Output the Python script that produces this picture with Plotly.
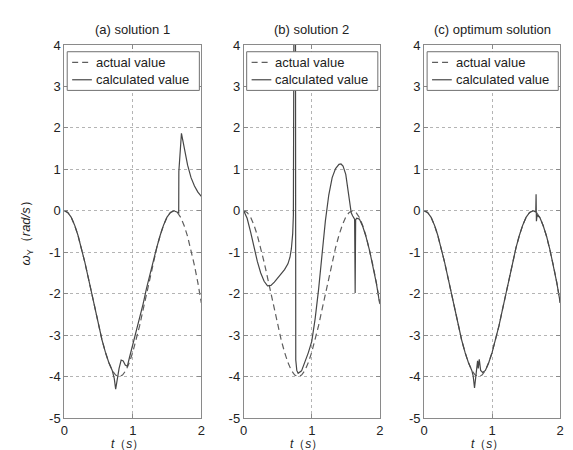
import plotly.graph_objects as go

# ---------------- data ----------------
t_actual = [0.00, 0.05, 0.10, 0.15, 0.20, 0.25, 0.30, 0.35, 0.40, 0.45,
            0.50, 0.55, 0.60, 0.65, 0.70, 0.75, 0.80, 0.85, 0.90, 0.95,
            1.00, 1.05, 1.10, 1.15, 1.20, 1.25, 1.30, 1.35, 1.40, 1.45,
            1.50, 1.55, 1.60, 1.65, 1.70, 1.75, 1.80, 1.85, 1.90, 1.95, 2.00]
actual = [0.00, -0.04, -0.15, -0.34, -0.59, -0.89, -1.24, -1.61, -2.00, -2.39,
          -2.77, -3.11, -3.41, -3.66, -3.85, -3.96, -4.00, -3.96, -3.85, -3.66,
          -3.41, -3.11, -2.77, -2.39, -2.00, -1.61, -1.24, -0.89, -0.59, -0.34,
          -0.15, -0.04, 0.00, -0.04, -0.16, -0.36, -0.62, -0.95, -1.32, -1.74, -2.22]

t_calc_a = [0.00, 0.05, 0.10, 0.15, 0.20, 0.25, 0.30, 0.35, 0.40, 0.45,
            0.50, 0.55, 0.60, 0.65, 0.70, 0.73, 0.75, 0.77, 0.80, 0.83,
            0.86, 0.89, 0.92, 0.95, 1.00, 1.05, 1.10, 1.15, 1.20, 1.25,
            1.30, 1.35, 1.40, 1.45, 1.50, 1.55, 1.60, 1.65, 1.670, 1.672,
            1.69, 1.71, 1.73, 1.76, 1.80, 1.85, 1.90, 1.95, 2.00]
calc_a = [0.00, -0.04, -0.15, -0.34, -0.59, -0.89, -1.24, -1.61, -2.00, -2.39,
          -2.77, -3.11, -3.41, -3.66, -3.85, -4.05, -4.30, -4.05, -3.80, -3.60,
          -3.62, -3.72, -3.75, -3.55, -3.22, -2.95, -2.62, -2.25, -1.87, -1.53,
          -1.20, -0.88, -0.59, -0.34, -0.15, -0.04, 0.00, -0.03, -0.05, 0.95,
          1.45, 1.87, 1.70, 1.42, 1.10, 0.80, 0.60, 0.45, 0.35]

t_calc_b = [0.00, 0.05, 0.10, 0.15, 0.20, 0.25, 0.30, 0.35, 0.40, 0.45,
            0.50, 0.55, 0.60, 0.65, 0.68, 0.70, 0.72, 0.73, 0.735, 0.740,
            0.760, 0.765, 0.78, 0.80, 0.85, 0.90, 0.95, 1.00, 1.05, 1.10,
            1.15, 1.20, 1.25, 1.30, 1.35, 1.40, 1.43, 1.46, 1.50, 1.53,
            1.56, 1.58, 1.60, 1.63, 1.638, 1.645, 1.66, 1.70, 1.75, 1.80,
            1.85, 1.90, 1.95, 2.00]
calc_b = [0.00, -0.18, -0.50, -0.88, -1.22, -1.50, -1.70, -1.81, -1.80, -1.72,
          -1.62, -1.52, -1.42, -1.28, -1.12, -0.92, -0.55, -0.10, 1.50, 6.00,
          6.00, -3.60, -3.85, -3.92, -3.86, -3.66, -3.42, -3.15, -2.60, -1.90,
          -1.08, -0.25, 0.38, 0.80, 1.02, 1.12, 1.13, 1.08, 0.88, 0.55,
          0.15, -0.05, -0.12, -0.20, -1.98, -0.22, -0.18, -0.20, -0.38, -0.64,
          -0.96, -1.33, -1.75, -2.25]

t_calc_c = [0.00, 0.05, 0.10, 0.15, 0.20, 0.25, 0.30, 0.35, 0.40, 0.45,
            0.50, 0.55, 0.60, 0.65, 0.70, 0.72, 0.74, 0.77, 0.785, 0.795,
            0.81, 0.83, 0.86, 0.90, 0.95, 1.00, 1.05, 1.10, 1.15, 1.20,
            1.25, 1.30, 1.35, 1.40, 1.45, 1.50, 1.55, 1.60, 1.64, 1.645,
            1.65, 1.66, 1.70, 1.75, 1.80, 1.85, 1.90, 1.95, 2.00]
calc_c = [0.00, -0.04, -0.15, -0.34, -0.59, -0.89, -1.24, -1.61, -2.00, -2.39,
          -2.77, -3.11, -3.41, -3.66, -3.85, -3.98, -4.27, -3.85, -3.62, -3.80,
          -3.58, -3.85, -3.90, -3.85, -3.66, -3.41, -3.11, -2.77, -2.39, -2.00,
          -1.61, -1.24, -0.89, -0.59, -0.34, -0.15, -0.04, 0.00, -0.03, 0.40,
          -0.25, -0.10, -0.16, -0.36, -0.62, -0.95, -1.32, -1.74, -2.22]

titles = ["(a) solution 1", "(b) solution 2", "(c) optimum solution"]
legend_labels = ["actual value", "calculated value"]
y_tickvals = [-5, -4, -3, -2, -1, 0, 1, 2, 3, 4]
y_ticktext = ["-5", "-4", "-3", "-2", "-1", "0", "1", "2", "3", "4"]
x_tickvals = [0, 1, 2]
x_ticktext = ["0", "1", "2"]
y_label = "<i>ω</i><sub>Y</sub>（<i>rad/s</i>）"
x_label = "<i>t</i>（<i>s</i>）"

# ---------------- layout geometry ----------------
W, H = 573, 450
panels_px = [(53, 192), (235, 373), (418, 556)]
top_px, bot_px = 31, 417
FONT = "Liberation Sans, Arial, sans-serif"
TXT = "#222222"
FRAME = "#8a8a8a"
DASH_COL = "#5e5e5e"
SOLID_COL = "#474747"


def px_x(p):
    return p / W


def px_y(p):
    return 1 - p / H


fig = go.Figure()
calc_sets = [(t_calc_a, calc_a), (t_calc_b, calc_b), (t_calc_c, calc_c)]
shapes = []
annotations = []
layout_axes = {}

for i, ((pl, pr), (tc, vc)) in enumerate(zip(panels_px, calc_sets)):
    suffix = "" if i == 0 else str(i + 1)
    xa, ya = "x" + suffix, "y" + suffix
    fig.add_trace(go.Scatter(x=t_actual, y=actual, mode="lines",
                             line=dict(color=DASH_COL, width=1.2, dash="6px,4px"),
                             xaxis=xa, yaxis=ya, showlegend=False,
                             name=legend_labels[0]))
    fig.add_trace(go.Scatter(x=tc, y=vc, mode="lines",
                             line=dict(color=SOLID_COL, width=1.2),
                             xaxis=xa, yaxis=ya, showlegend=False,
                             name=legend_labels[1]))
    common = dict(showline=True, linecolor=FRAME, linewidth=1, mirror="ticks",
                  ticks="inside", ticklen=4, tickcolor=FRAME,
                  showgrid=True, gridcolor="#b4b4b4", griddash="dot", gridwidth=1,
                  zeroline=False, tickfont=dict(family=FONT, size=13, color=TXT))
    layout_axes["xaxis" + suffix] = dict(common, domain=[px_x(pl), px_x(pr)],
                                         range=[0, 2], tickvals=x_tickvals,
                                         ticktext=x_ticktext, anchor=ya)
    layout_axes["yaxis" + suffix] = dict(common, domain=[px_y(bot_px), px_y(top_px)],
                                         range=[-5, 4], tickvals=y_tickvals,
                                         ticktext=y_ticktext, anchor=xa)

    cx = (pl + pr) / 2
    # panel title
    annotations.append(dict(text=titles[i], x=px_x(cx), y=px_y(15), xref="paper",
                            yref="paper", showarrow=False, xanchor="center",
                            yanchor="middle", font=dict(family=FONT, size=13, color=TXT)))
    # x-axis label
    annotations.append(dict(text=x_label, x=px_x(cx - 5), y=px_y(444), xref="paper",
                            yref="paper", showarrow=False, xanchor="center",
                            yanchor="middle", font=dict(family=FONT, size=12, color=TXT)))

    # legend box
    lb_l, lb_r, lb_t, lb_b = pl + 3, pr - 2, 38, 78
    shapes.append(dict(type="rect", xref="paper", yref="paper",
                       x0=px_x(lb_l), x1=px_x(lb_r), y0=px_y(lb_b), y1=px_y(lb_t),
                       fillcolor="white", line=dict(color="#707070", width=1),
                       layer="above"))
    rows = [49, 67]
    shapes.append(dict(type="line", xref="paper", yref="paper",
                       x0=px_x(lb_l + 5), x1=px_x(lb_l + 25), y0=px_y(rows[0]), y1=px_y(rows[0]),
                       line=dict(color=DASH_COL, width=1.2, dash="6px,4px"), layer="above"))
    shapes.append(dict(type="line", xref="paper", yref="paper",
                       x0=px_x(lb_l + 5), x1=px_x(lb_l + 25), y0=px_y(rows[1]), y1=px_y(rows[1]),
                       line=dict(color=SOLID_COL, width=1.2), layer="above"))
    for r, lab in zip(rows, legend_labels):
        annotations.append(dict(text=lab, x=px_x(lb_l + 27), y=px_y(r), xref="paper",
                                yref="paper", showarrow=False, xanchor="left",
                                yanchor="middle", font=dict(family=FONT, size=13, color=TXT)))

# y-axis title
annotations.append(dict(text=y_label, x=px_x(15), y=px_y(222), xref="paper", yref="paper",
                        showarrow=False, textangle=-90, xanchor="center", yanchor="middle",
                        font=dict(family=FONT, size=13, color=TXT)))

fig.update_layout(width=W, height=H, autosize=False,
                  margin=dict(l=0, r=0, t=0, b=0),
                  paper_bgcolor="white", plot_bgcolor="white",
                  showlegend=False, shapes=shapes, annotations=annotations,
                  **layout_axes)

fig.write_html("out.html")
